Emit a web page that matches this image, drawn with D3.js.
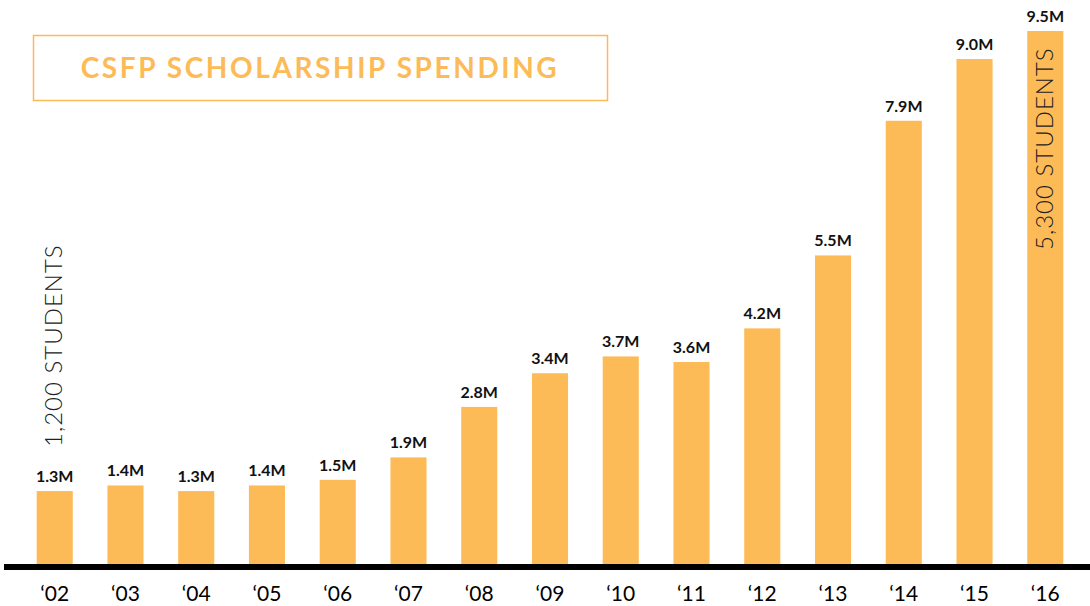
<!DOCTYPE html>
<html>
<head>
<meta charset="utf-8">
<script src="https://cdn.jsdelivr.net/npm/d3@7"></script>
<style>
  html, body { margin: 0; padding: 0; background: #fff; }
  #chart { width: 1090px; height: 606px; }
</style>
</head>
<body>
<div id="chart"></div>
<script>
// Data
const years = ["\u201802", "\u201803", "\u201804", "\u201805", "\u201806", "\u201807", "\u201808", "\u201809", "\u201810", "\u201811", "\u201812", "\u201813", "\u201814", "\u201815", "\u201816"];
const spending = [1.3, 1.4, 1.3, 1.4, 1.5, 1.9, 2.8, 3.4, 3.7, 3.6, 4.2, 5.5, 7.9, 9.0, 9.5];
const spendingLabels = ["1.3M", "1.4M", "1.3M", "1.4M", "1.5M", "1.9M", "2.8M", "3.4M", "3.7M", "3.6M", "4.2M", "5.5M", "7.9M", "9.0M", "9.5M"];
const title = "CSFP SCHOLARSHIP SPENDING";
const studentNotes = ["1,200 STUDENTS", "5,300 STUDENTS"];

const width = 1090, height = 606;
const barColor = "#fdbb57";

const svg = d3.select("#chart")
    .append("svg")
    .attr("width", width)
    .attr("height", height);

// x: one band per year
const x = d3.scaleBand()
    .domain(years.map((d, i) => i))
    .range([2, 1098])
    .paddingInner(0.49)
    .paddingOuter(0.49);

// y: millions of dollars
const y = d3.scaleLinear()
    .domain([0, 9.5])
    .range([564, 31]);

// Title box
svg.append("rect")
    .attr("x", 33.5)
    .attr("y", 35.5)
    .attr("width", 574)
    .attr("height", 65)
    .attr("fill", "none")
    .attr("stroke", barColor)
    .attr("stroke-width", 1.5);

svg.append("text")
    .attr("x", 320)
    .attr("y", 78)
    .attr("text-anchor", "middle")
    .style("font-family", "Lato")
    .style("font-weight", "bold")
    .style("font-size", "28px")
    .style("letter-spacing", "2.6px")
    .attr("fill", barColor)
    .text(title);

// Bars
svg.append("g")
    .selectAll("rect")
    .data(spending)
    .enter().append("rect")
    .attr("x", (d, i) => x(i))
    .attr("y", d => y(d))
    .attr("width", x.bandwidth())
    .attr("height", d => y(0) - y(d))
    .attr("fill", barColor);

// Value labels
svg.append("g")
    .selectAll("text")
    .data(spending)
    .enter().append("text")
    .attr("x", (d, i) => x(i) + x.bandwidth() / 2)
    .attr("y", d => y(d) - 9)
    .attr("text-anchor", "middle")
    .style("font-family", "Lato")
    .style("font-weight", "bold")
    .style("font-size", "16px")
    .attr("fill", "#111")
    .text((d, i) => spendingLabels[i]);

// Baseline
svg.append("line")
    .attr("x1", 4)
    .attr("x2", width)
    .attr("y1", y(0) + 3)
    .attr("y2", y(0) + 3)
    .attr("stroke", "#000")
    .attr("stroke-width", 6);

// Year axis
const axis = svg.append("g")
    .attr("transform", `translate(0,${y(0) + 6})`)
    .call(d3.axisBottom(x).tickSize(0).tickPadding(16).tickFormat(i => years[i]));
axis.select(".domain").remove();
axis.selectAll("text")
    .style("font-family", "Lato")
    .style("font-size", "21px")
    .attr("fill", "#000");

// Student count notes (rotated)
const lastCx = x(years.length - 1) + x.bandwidth() / 2;

svg.append("text")
    .attr("transform", `translate(62,447) rotate(-90)`)
    .attr("text-anchor", "start")
    .style("font-family", "Lato")
    .style("font-weight", "300")
    .style("font-size", "24px")
    .style("letter-spacing", "1px")
    .attr("fill", "#222")
    .text(studentNotes[0]);

svg.append("text")
    .attr("transform", `translate(${lastCx + 8},250) rotate(-90)`)
    .attr("text-anchor", "start")
    .style("font-family", "Lato")
    .style("font-weight", "300")
    .style("font-size", "24px")
    .style("letter-spacing", "1px")
    .attr("fill", "#222")
    .text(studentNotes[1]);
</script>
</body>
</html>
